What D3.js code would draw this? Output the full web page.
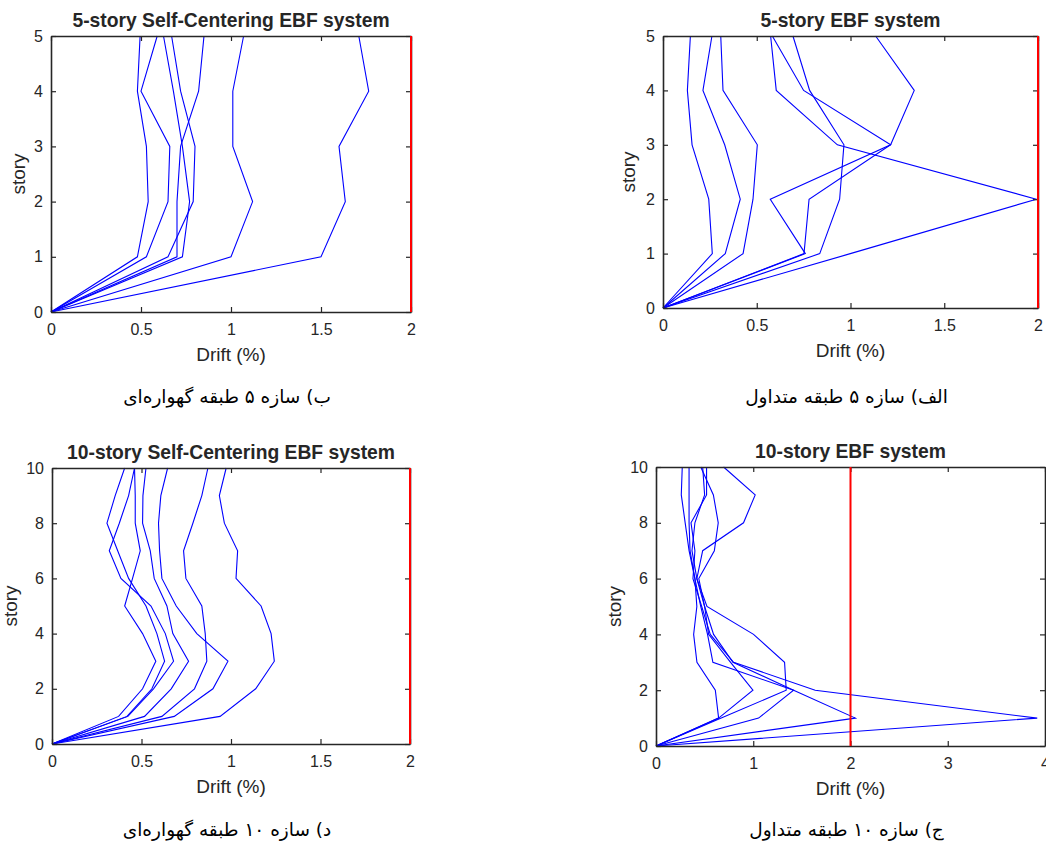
<!DOCTYPE html>
<html>
<head>
<meta charset="utf-8">
<script src="https://cdnjs.cloudflare.com/ajax/libs/d3/7.8.5/d3.min.js"></script>
<style>
  body { margin: 0; background: #fff; }
  svg { display: block; }
  text { font-family: "Liberation Sans", Arial, sans-serif; fill: #262626; }
  .caption { font-family: "DejaVu Sans", sans-serif; fill: #000; }
</style>
</head>
<body>
<div id="chart"></div>
<script>
// story levels
const storiesFive = [0, 1, 2, 3, 4, 5]
const storiesTen = [0, 1, 2, 3, 4, 5, 6, 7, 8, 9, 10]

// drift (%) per story, one row per record
const sc5Drifts = [
  [0, 0.48, 0.54, 0.53, 0.48, 0.495],
  [0, 0.53, 0.65, 0.66, 0.50, 0.59],
  [0, 0.73, 0.77, 0.73, 0.68, 0.625],
  [0, 0.65, 0.79, 0.80, 0.72, 0.67],
  [0, 0.70, 0.70, 0.72, 0.82, 0.85],
  [0, 1.00, 1.12, 1.01, 1.01, 1.07],
  [0, 1.50, 1.635, 1.60, 1.765, 1.71]
]
const ebf5Drifts = [
  [0, 0.263, 0.244, 0.155, 0.130, 0.146],
  [0, 0.332, 0.412, 0.329, 0.213, 0.261],
  [0, 0.427, 0.480, 0.503, 0.320, 0.308],
  [0, 0.759, 0.572, 1.214, 1.340, 1.134],
  [0, 0.752, 0.779, 1.214, 0.750, 0.583],
  [0, 0.836, 0.942, 0.965, 0.782, 0.693],
  [0, 0.999, 1.991, 0.930, 0.604, 0.574]
]
const sc10Drifts = [
  [0, 0.419, 0.558, 0.629, 0.586, 0.525, 0.428, 0.367, 0.307, 0.353, 0.406],
  [0, 0.424, 0.567, 0.679, 0.633, 0.553, 0.385, 0.320, 0.376, 0.428, 0.461],
  [0, 0.372, 0.506, 0.580, 0.506, 0.406, 0.450, 0.493, 0.465, 0.465, 0.461],
  [0, 0.517, 0.666, 0.763, 0.675, 0.642, 0.571, 0.549, 0.506, 0.508, 0.525],
  [0, 0.683, 0.899, 0.983, 0.809, 0.694, 0.614, 0.601, 0.595, 0.608, 0.646],
  [0, 0.614, 0.796, 0.865, 0.856, 0.837, 0.748, 0.735, 0.787, 0.837, 0.871],
  [0, 0.939, 1.138, 1.242, 1.224, 1.168, 1.028, 1.037, 0.963, 0.935, 0.973]
]
const ebf10Drifts = [
  [0, 0.644, 0.610, 0.421, 0.387, 0.42, 0.40, 0.34, 0.30, 0.26, 0.27],
  [0, 0.644, 0.997, 0.767, 0.541, 0.50, 0.42, 0.37, 0.40, 0.50, 0.48],
  [0, 1.055, 1.415, 0.585, 0.530, 0.46, 0.40, 0.35, 0.34, 0.34, 0.34],
  [0, 0.671, 1.339, 1.322, 1.003, 0.524, 0.42, 0.48, 0.90, 1.02, 0.695],
  [0, 2.05, 1.415, 0.791, 0.592, 0.50, 0.44, 0.60, 0.64, 0.59, 0.46],
  [0, 3.92, 1.637, 0.798, 0.558, 0.47, 0.38, 0.40, 0.36, 0.52, 0.52]
]

const driftLimit = 2

const xTicksHalf = [0, 0.5, 1, 1.5, 2]
const xTicksWhole = [0, 1, 2, 3, 4]
const yTicksFive = [0, 1, 2, 3, 4, 5]
const yTicksTen = [0, 2, 4, 6, 8, 10]

const titles = ["5-story Self-Centering EBF system", "5-story EBF system",
  "10-story Self-Centering EBF system", "10-story EBF system"]
const captions = ["ب) سازه ۵ طبقه گهواره‌ای", "الف) سازه ۵ طبقه متداول",
  "د) سازه ۱۰ طبقه گهواره‌ای", "ج) سازه ۱۰ طبقه متداول"]

const W = 1046, H = 845

const svg = d3.select("#chart").append("svg")
  .attr("width", W).attr("height", H)
  .attr("viewBox", [0, 0, W, H])

svg.append("rect").attr("width", W).attr("height", H).attr("fill", "#fff")

const panels = [
  { box: [51, 411, 36, 312], xMax: 2, yMax: 5, xTicks: xTicksHalf, yTicks: yTicksFive,
    stories: storiesFive, rows: sc5Drifts, title: titles[0], caption: captions[0], capY: 402, ylabX: 19 },
  { box: [663, 1038, 36, 308], xMax: 2, yMax: 5, xTicks: xTicksHalf, yTicks: yTicksFive,
    stories: storiesFive, rows: ebf5Drifts, title: titles[1], caption: captions[1], capY: 402, ylabX: 629 },
  { box: [52, 410, 468, 744], xMax: 2, yMax: 10, xTicks: xTicksHalf, yTicks: yTicksTen,
    stories: storiesTen, rows: sc10Drifts, title: titles[2], caption: captions[2], capY: 835, ylabX: 11 },
  { box: [656, 1045, 467, 746], xMax: 4, yMax: 10, xTicks: xTicksWhole, yTicks: yTicksTen,
    stories: storiesTen, rows: ebf10Drifts, title: titles[3], caption: captions[3], capY: 835, ylabX: 615 }
]

const axisColor = "#262626"
const fmt = d => String(d)

panels.forEach(p => {
  const [x0, x1, y0, y1] = p.box
  const x = d3.scaleLinear().domain([0, p.xMax]).range([x0, x1])
  const y = d3.scaleLinear().domain([0, p.yMax]).range([y1, y0])
  const g = svg.append("g")

  const line = d3.line()
    .x(d => x(d))
    .y((d, i) => y(p.stories[i]))

  g.append("g").selectAll("path").data(p.rows).join("path")
    .attr("d", line)
    .attr("fill", "none")
    .attr("stroke", "#0000ff")
    .attr("stroke-width", 1.1)
    .attr("stroke-linejoin", "miter")

  // axes, ticks pointing inward on all four sides
  const styleAxis = sel => {
    sel.selectAll(".domain").attr("stroke", axisColor).attr("stroke-width", 1.6)
    sel.selectAll(".tick line").attr("stroke", axisColor).attr("stroke-width", 1.2)
    sel.selectAll("text").attr("fill", axisColor).attr("font-size", 16)
      .attr("font-family", "\"Liberation Sans\", Arial, sans-serif")
  }
  g.append("g").attr("transform", `translate(0,${y1})`)
    .call(d3.axisBottom(x).tickValues(p.xTicks).tickFormat(fmt).tickSizeInner(-5).tickSizeOuter(0).tickPadding(12))
    .call(styleAxis)
  g.append("g").attr("transform", `translate(0,${y0})`)
    .call(d3.axisTop(x).tickValues(p.xTicks).tickFormat("").tickSizeInner(-5).tickSizeOuter(0))
    .call(styleAxis)
  g.append("g").attr("transform", `translate(${x0},0)`)
    .call(d3.axisLeft(y).tickValues(p.yTicks).tickFormat(fmt).tickSizeInner(-5).tickSizeOuter(0).tickPadding(8))
    .call(styleAxis)
  g.append("g").attr("transform", `translate(${x1},0)`)
    .call(d3.axisRight(y).tickValues(p.yTicks).tickFormat("").tickSizeInner(-5).tickSizeOuter(0))
    .call(styleAxis)
  g.selectAll(".domain").attr("fill", "none")

  // allowable drift limit
  g.append("line")
    .attr("x1", x(driftLimit)).attr("x2", x(driftLimit))
    .attr("y1", y(0)).attr("y2", y(p.yMax))
    .attr("stroke", "#ff0000").attr("stroke-width", 2)

  g.append("text")
    .attr("x", (x0 + x1) / 2).attr("y", y0 - 9)
    .attr("text-anchor", "middle")
    .attr("font-size", 19.3).attr("font-weight", "bold")
    .attr("fill", "#000")
    .text(p.title)

  g.append("text")
    .attr("x", (x0 + x1) / 2).attr("y", y1 + 49)
    .attr("text-anchor", "middle")
    .attr("font-size", 19)
    .text("Drift (%)")

  g.append("text")
    .attr("transform", `translate(${p.ylabX + 6},${(y0 + y1) / 2}) rotate(-90)`)
    .attr("text-anchor", "middle")
    .attr("font-size", 19)
    .text("story")

  svg.append("text")
    .attr("class", "caption")
    .attr("x", (x0 + x1) / 2 - 4).attr("y", p.capY + 1)
    .attr("text-anchor", "middle")
    .attr("direction", "rtl")
    .attr("font-size", 18.5)
    .text(p.caption)
})
</script>
</body>
</html>
